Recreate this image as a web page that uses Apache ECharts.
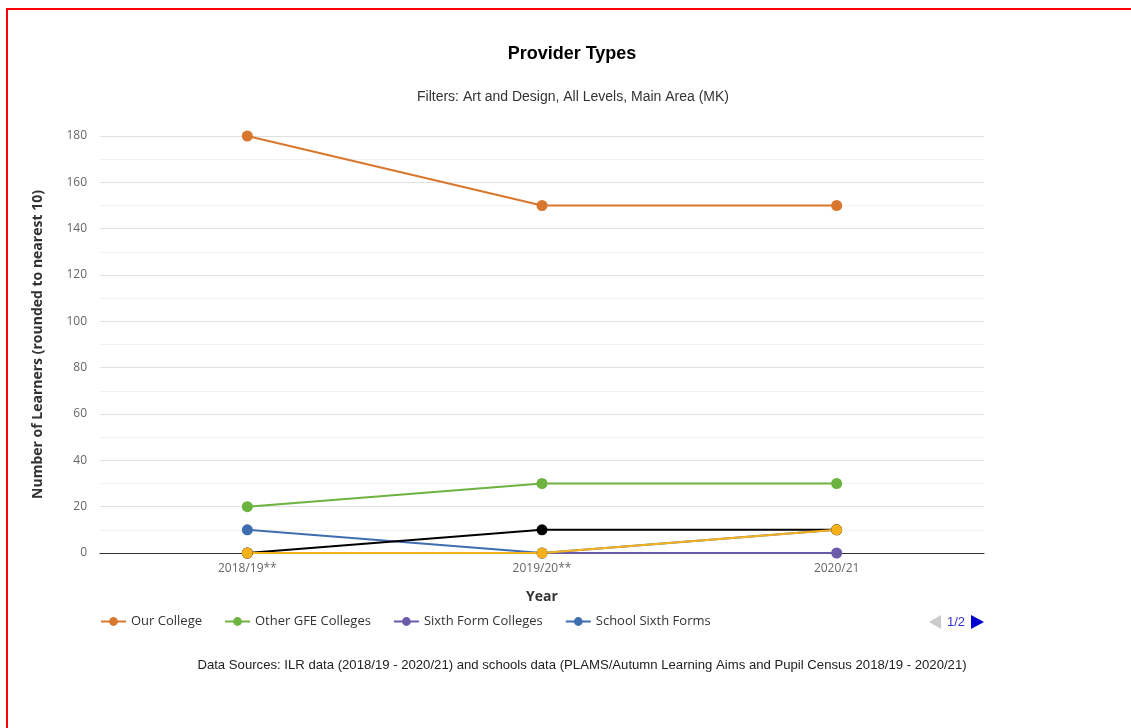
<!DOCTYPE html>
<html>
<head>
<meta charset="utf-8">
<title>Provider Types</title>
<script src="https://cdn.jsdelivr.net/npm/echarts@6/dist/echarts.min.js"></script>
<style>
  html, body { margin: 0; padding: 0; background: #fff; overflow: hidden; }
  #frame {
    position: absolute; left: 6px; top: 8px; width: 1130px; height: 800px;
    border: 2px solid #ff0000; box-sizing: border-box; pointer-events: none; z-index: 2;
  }
  #chart { position: absolute; left: 0; top: 0; width: 1131px; height: 728px; }
</style>
</head>
<body>
<div id="chart"></div>
<div id="frame"></div>
<script>
// Academic years on the x axis
const years = ['2018/19**', '2019/20**', '2020/21'];

// Learner counts per provider type (rounded to nearest 10)
const ourCollege        = [180, 150, 150];
const otherGFEColleges  = [20, 30, 30];
const sixthFormColleges = [0, 0, 0];
const schoolSixthForms  = [10, 0, 10];
const independentProviders = [0, 10, 10];
const otherProviders    = [0, 0, 10];

const seriesNames = [
  'Our College', 'Other GFE Colleges', 'Sixth Form Colleges',
  'School Sixth Forms', 'Independent Training Providers', 'Other Providers'
];
const seriesData = [
  ourCollege, otherGFEColleges, sixthFormColleges,
  schoolSixthForms, independentProviders, otherProviders
];
const seriesColors = ['#d9772e', '#6db33f', '#6a5aa8', '#3e6db0', '#000000', '#f5b01a'];

// Legend shows its first page of four entries
const legendPageSize = 4;
const legendPage = 1;
const legendPages = Math.ceil(seriesNames.length / legendPageSize);

const yTicks = { min: 0, max: 180, interval: 20 };

const chart = echarts.init(document.getElementById('chart'), null, { renderer: 'canvas' });

const sansUI = '"Open Sans", "Noto Sans", sans-serif';
const sansArial = '"Liberation Sans", Arial, sans-serif';

chart.setOption({
  animation: false,
  backgroundColor: '#ffffff',
  graphic: [
    { type: 'text', x: 572, y: 54,
      style: { text: 'Provider Types', font: 'bold 18px ' + sansArial, fill: '#000000',
               textAlign: 'center', textVerticalAlign: 'middle' } },
    { type: 'text', x: 573, y: 97,
      style: { text: 'Filters: Art and Design, All Levels, Main Area (MK)', font: '14px ' + sansArial,
               fill: '#333333', textAlign: 'center', textVerticalAlign: 'middle' } },
    { type: 'text', x: 582, y: 665,
      style: { text: 'Data Sources: ILR data (2018/19 - 2020/21) and schools data (PLAMS/Autumn Learning Aims and Pupil Census 2018/19 - 2020/21)',
               font: '13.15px ' + sansArial, fill: '#222222', textAlign: 'center', textVerticalAlign: 'middle' } },
    // legend pager: previous (inactive), page text, next
    { type: 'polygon', shape: { points: [[929, 622], [941, 615], [941, 629]] },
      style: { fill: '#cccccc' } },
    { type: 'text', x: 956, y: 622,
      style: { text: legendPage + '/' + legendPages, font: '13px ' + sansArial, fill: '#3333cc',
               textAlign: 'center', textVerticalAlign: 'middle' } },
    { type: 'polygon', shape: { points: [[984, 622], [971, 615], [971, 629]] },
      style: { fill: '#0000cc' } }
  ],
  grid: { left: 100, right: 147, top: 136, bottom: 175, containLabel: false },
  legend: {
    type: 'plain',
    orient: 'horizontal',
    left: 100,
    top: 615,
    padding: 0,
    itemWidth: 25,
    itemHeight: 11,
    itemGap: 22,
    textStyle: { fontFamily: sansUI, fontSize: 13, color: '#333333' },
    data: seriesNames.slice((legendPage - 1) * legendPageSize, legendPage * legendPageSize)
  },
  xAxis: {
    type: 'category',
    data: years,
    boundaryGap: true,
    name: 'Year',
    nameLocation: 'middle',
    nameGap: 37,
    nameTextStyle: { fontFamily: sansUI, fontSize: 14, fontWeight: 'bold', color: '#333333' },
    axisLine: { show: true, lineStyle: { color: '#333333', width: 1 } },
    axisTick: { show: false },
    axisLabel: { fontFamily: sansUI, fontSize: 12, color: '#666666', margin: 10 },
    splitLine: { show: false }
  },
  yAxis: {
    type: 'value',
    min: yTicks.min,
    max: yTicks.max,
    interval: yTicks.interval,
    name: 'Number of Learners (rounded to nearest 10)',
    nameLocation: 'middle',
    nameGap: 55,
    nameTextStyle: { fontFamily: sansUI, fontSize: 14, fontWeight: 'bold', color: '#333333' },
    axisLine: { show: false },
    axisTick: { show: false },
    axisLabel: { fontFamily: sansUI, fontSize: 12, color: '#666666', margin: 13 },
    splitLine: { show: true, lineStyle: { color: '#e0e0e0', width: 1 } },
    minorTick: { show: false, splitNumber: 2 },
    minorSplitLine: { show: true, lineStyle: { color: '#f2f2f2', width: 1 } }
  },
  series: seriesNames.map((name, i) => ({
    name: name,
    type: 'line',
    data: seriesData[i],
    symbol: 'circle',
    symbolSize: 11,
    showAllSymbol: true,
    color: seriesColors[i],
    lineStyle: { width: 2, color: seriesColors[i] },
    itemStyle: { color: seriesColors[i], borderWidth: 0 },
    emphasis: { disabled: true }
  }))
});
</script>
</body>
</html>
